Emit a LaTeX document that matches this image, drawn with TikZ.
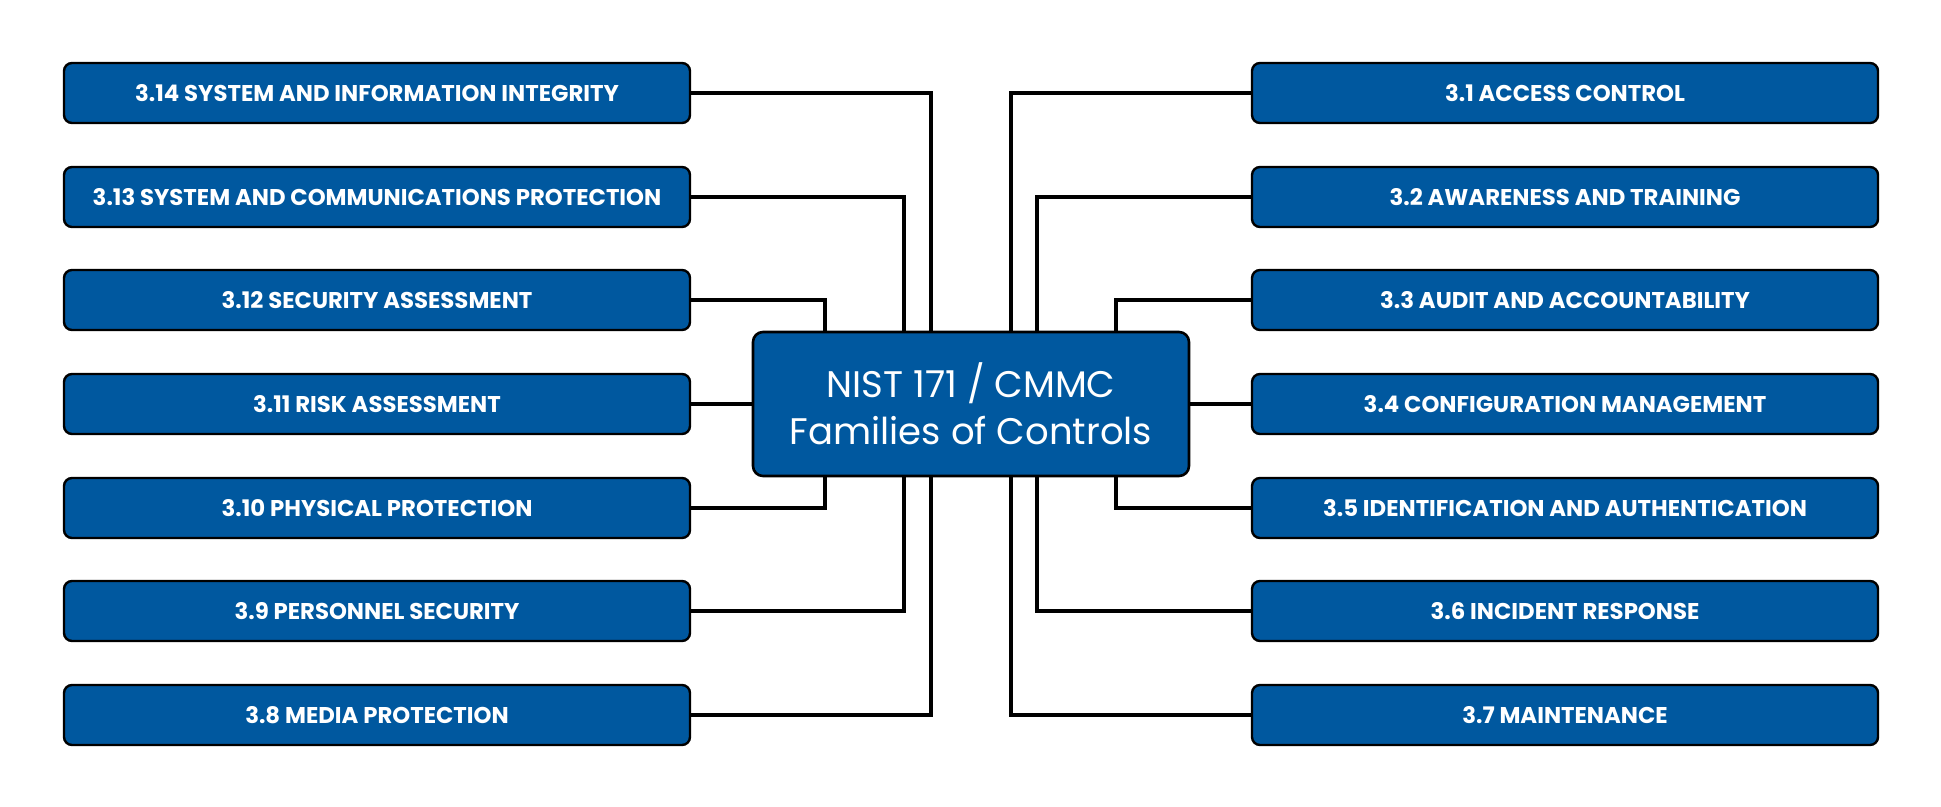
\documentclass[tikz,border=0pt]{standalone}
\usepackage{fontspec}
\setmainfont{Poppins}
\usetikzlibrary{positioning}

\definecolor{nistblue}{RGB}{0,88,159}

\tikzset{
  family/.style={draw=black,line width=1.2pt,rounded corners=4pt,fill=nistblue,text=white,
    minimum width=313pt,minimum height=30pt,inner sep=0pt,font=\bfseries\fontsize{11.4}{13}\selectfont},
  hubbox/.style={draw=black,line width=1.3pt,rounded corners=5pt,fill=nistblue,text=white,
    minimum width=218pt,minimum height=72pt,align=center,font=\fontsize{18.5}{23.5}\selectfont},
  link/.style={draw=black,line width=1.6pt}
}

\begin{document}
\begin{tikzpicture}[x=0.5pt,y=-0.5pt]
    \useasboundingbox (0,0) rectangle (1941,807);
    \node[hubbox] (hub) at (971,404) {NIST 171 / CMMC\\Families of Controls};
    % left column
    \node[family] (f14) at (377,93) {3.14 SYSTEM AND INFORMATION INTEGRITY};
    \node[family] (f13) at (377,197) {3.13 SYSTEM AND COMMUNICATIONS PROTECTION};
    \node[family] (f12) at (377,300) {3.12 SECURITY ASSESSMENT};
    \node[family] (f11) at (377,404) {3.11 RISK ASSESSMENT};
    \node[family] (f10) at (377,508) {3.10 PHYSICAL PROTECTION};
    \node[family] (f9) at (377,611) {3.9 PERSONNEL SECURITY};
    \node[family] (f8) at (377,715) {3.8 MEDIA PROTECTION};
    % right column
    \node[family] (f1) at (1565,93) {3.1 ACCESS CONTROL};
    \node[family] (f2) at (1565,197) {3.2 AWARENESS AND TRAINING};
    \node[family] (f3) at (1565,300) {3.3 AUDIT AND ACCOUNTABILITY};
    \node[family] (f4) at (1565,404) {3.4 CONFIGURATION MANAGEMENT};
    \node[family] (f5) at (1565,508) {3.5 IDENTIFICATION AND AUTHENTICATION};
    \node[family] (f6) at (1565,611) {3.6 INCIDENT RESPONSE};
    \node[family] (f7) at (1565,715) {3.7 MAINTENANCE};
    % connectors
    \draw[link] (f14.east) -| ([xshift=-20pt]hub.north);
    \draw[link] (f13.east) -| ([xshift=-33.5pt]hub.north);
    \draw[link] (f12.east) -| ([xshift=-73pt]hub.north);
    \draw[link] (f11.east) -- (hub.west);
    \draw[link] (f10.east) -| ([xshift=-73pt]hub.south);
    \draw[link] (f9.east) -| ([xshift=-33.5pt]hub.south);
    \draw[link] (f8.east) -| ([xshift=-20pt]hub.south);
    \draw[link] (f1.west) -| ([xshift=20pt]hub.north);
    \draw[link] (f2.west) -| ([xshift=33pt]hub.north);
    \draw[link] (f3.west) -| ([xshift=72.5pt]hub.north);
    \draw[link] (f4.west) -- (hub.east);
    \draw[link] (f5.west) -| ([xshift=72.5pt]hub.south);
    \draw[link] (f6.west) -| ([xshift=33pt]hub.south);
    \draw[link] (f7.west) -| ([xshift=20pt]hub.south);
\end{tikzpicture}
\end{document}
